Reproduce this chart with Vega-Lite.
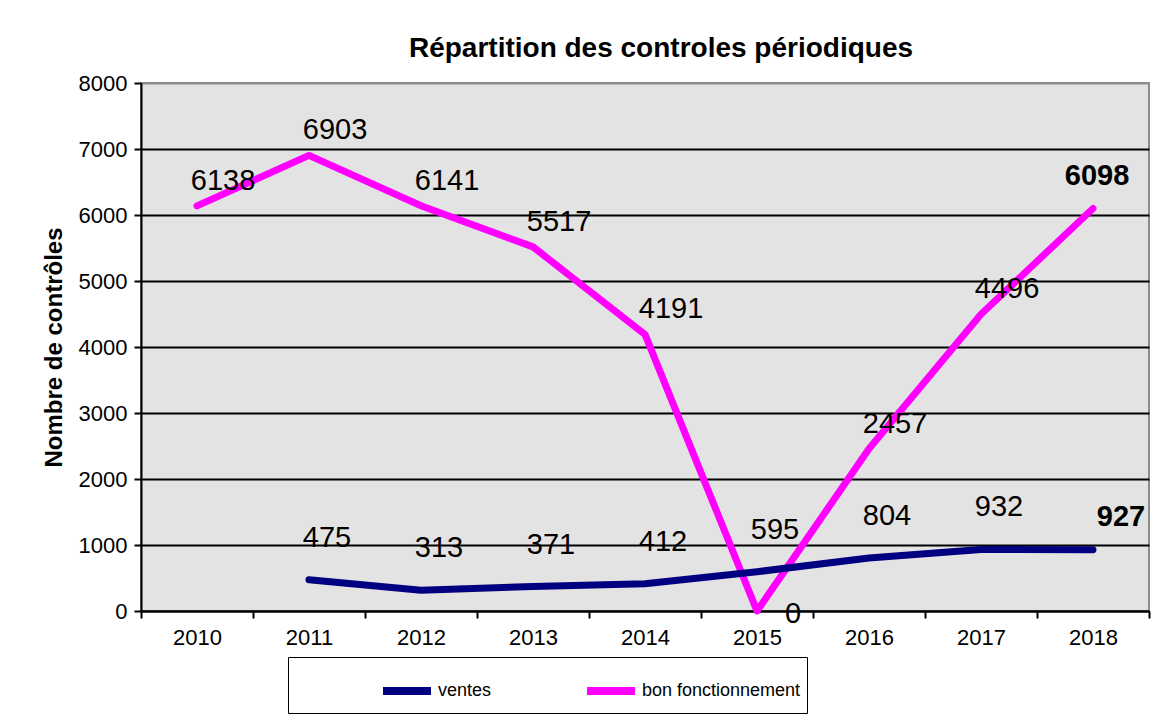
{
  "$schema": "https://vega.github.io/schema/vega-lite/v6.json",
  "width": 1008,
  "height": 528,
  "autosize": "none",
  "padding": {"left": 141, "top": 83, "right": 10, "bottom": 117},
  "background": "white",
  "title": {
    "text": "Répartition des controles périodiques",
    "font": "Liberation Sans",
    "fontSize": 28,
    "fontWeight": "bold",
    "color": "black",
    "anchor": "middle",
    "dx": 16,
    "offset": 9
  },
  "config": {
    "font": "Liberation Sans",
    "view": {"fill": "#E3E3E3", "stroke": "#8C8C8C", "strokeWidth": 2},
    "axis": {"labelFont": "Liberation Sans", "titleFont": "Liberation Sans", "labelColor": "black", "titleColor": "black"}
  },
  "data": {
    "values": [
      {"year": "2010", "series": "bon fonctionnement", "value": 6138},
      {"year": "2011", "series": "bon fonctionnement", "value": 6903},
      {"year": "2012", "series": "bon fonctionnement", "value": 6141},
      {"year": "2013", "series": "bon fonctionnement", "value": 5517},
      {"year": "2014", "series": "bon fonctionnement", "value": 4191},
      {"year": "2015", "series": "bon fonctionnement", "value": 0},
      {"year": "2016", "series": "bon fonctionnement", "value": 2457},
      {"year": "2017", "series": "bon fonctionnement", "value": 4496},
      {"year": "2018", "series": "bon fonctionnement", "value": 6098},
      {"year": "2011", "series": "ventes", "value": 475},
      {"year": "2012", "series": "ventes", "value": 313},
      {"year": "2013", "series": "ventes", "value": 371},
      {"year": "2014", "series": "ventes", "value": 412},
      {"year": "2015", "series": "ventes", "value": 595},
      {"year": "2016", "series": "ventes", "value": 804},
      {"year": "2017", "series": "ventes", "value": 932},
      {"year": "2018", "series": "ventes", "value": 927}
    ]
  },
  "encoding": {
    "x": {
      "field": "year",
      "type": "ordinal",
      "scale": {"type": "band", "paddingInner": 0, "paddingOuter": 0, "domain": ["2010","2011","2012","2013","2014","2015","2016","2017","2018"]},
      "axis": {
        "title": null,
        "labelAngle": 0,
        "labelFontSize": 22,
        "labelPadding": 9,
        "tickBand": "extent",
        "ticks": true,
        "tickColor": "black",
        "tickSize": 7,
        "tickWidth": 2,
        "domainColor": "black",
        "domainWidth": 2,
        "grid": false
      }
    },
    "y": {
      "field": "value",
      "type": "quantitative",
      "scale": {"domain": [0, 8000], "nice": false},
      "axis": {
        "title": "Nombre de contrôles",
        "titleFontSize": 24,
        "titleFontWeight": "bold",
        "titlePadding": 12,
        "format": "d",
        "values": [0,1000,2000,3000,4000,5000,6000,7000,8000],
        "labelFontSize": 22,
        "labelPadding": 7,
        "tickColor": "black",
        "tickSize": 7,
        "tickWidth": 2,
        "domainColor": "black",
        "domainWidth": 2,
        "grid": true,
        "gridColor": {"condition": {"test": "datum.value == 8000", "value": "#8C8C8C"}, "value": "black"},
        "gridWidth": 2,
        "gridOpacity": 1
      }
    }
  },
  "layer": [
    {
      "mark": {"type": "line", "strokeWidth": 7, "strokeCap": "round", "strokeJoin": "round"},
      "encoding": {
        "color": {
          "field": "series",
          "type": "nominal",
          "scale": {"domain": ["ventes", "bon fonctionnement"], "range": ["#000080", "#FF00FF"]},
          "legend": {
            "title": null,
            "orient": "none",
            "direction": "horizontal",
            "legendX": 147,
            "legendY": 574,
            "padding": 6,
            "strokeColor": "black",
            "fillColor": "white",
            "symbolType": "stroke",
            "symbolSize": 2304,
            "symbolStrokeWidth": 8,
            "symbolOffset": 85,
            "labelFont": "Liberation Sans",
            "labelFontSize": 18,
            "labelColor": "black",
            "labelOffset": 3,
            "columnPadding": 6,
            "labelLimit": 600,
            "labelExpr": "datum.label == 'bon fonctionnement' ? datum.label + '                                              ' : datum.label"
          }
        }
      }
    },
    {
      "transform": [{"filter": "datum.series == 'bon fonctionnement' && datum.year != '2018' && datum.value != 0"}],
      "mark": {"type": "text", "fontSize": 29, "dx": 26, "dy": -25, "baseline": "middle", "color": "black"},
      "encoding": {"text": {"field": "value", "type": "quantitative"}}
    },
    {
      "transform": [{"filter": "datum.series == 'bon fonctionnement' && datum.value == 0"}],
      "mark": {"type": "text", "fontSize": 29, "dx": 36, "dy": 3, "baseline": "middle", "color": "black"},
      "encoding": {"text": {"field": "value", "type": "quantitative"}}
    },
    {
      "transform": [{"filter": "datum.series == 'ventes' && datum.year != '2018'"}],
      "mark": {"type": "text", "fontSize": 29, "dx": 18, "dy": -42, "baseline": "middle", "color": "black"},
      "encoding": {"text": {"field": "value", "type": "quantitative"}}
    },
    {
      "transform": [{"filter": "datum.year == '2018' && datum.series == 'bon fonctionnement'"}],
      "mark": {"type": "text", "fontSize": 29, "fontWeight": "bold", "dx": 4, "dy": -33, "baseline": "middle", "color": "black"},
      "encoding": {"text": {"field": "value", "type": "quantitative"}}
    },
    {
      "transform": [{"filter": "datum.year == '2018' && datum.series == 'ventes'"}],
      "mark": {"type": "text", "fontSize": 29, "fontWeight": "bold", "dx": 28, "dy": -33, "baseline": "middle", "color": "black"},
      "encoding": {"text": {"field": "value", "type": "quantitative"}}
    }
  ]
}
